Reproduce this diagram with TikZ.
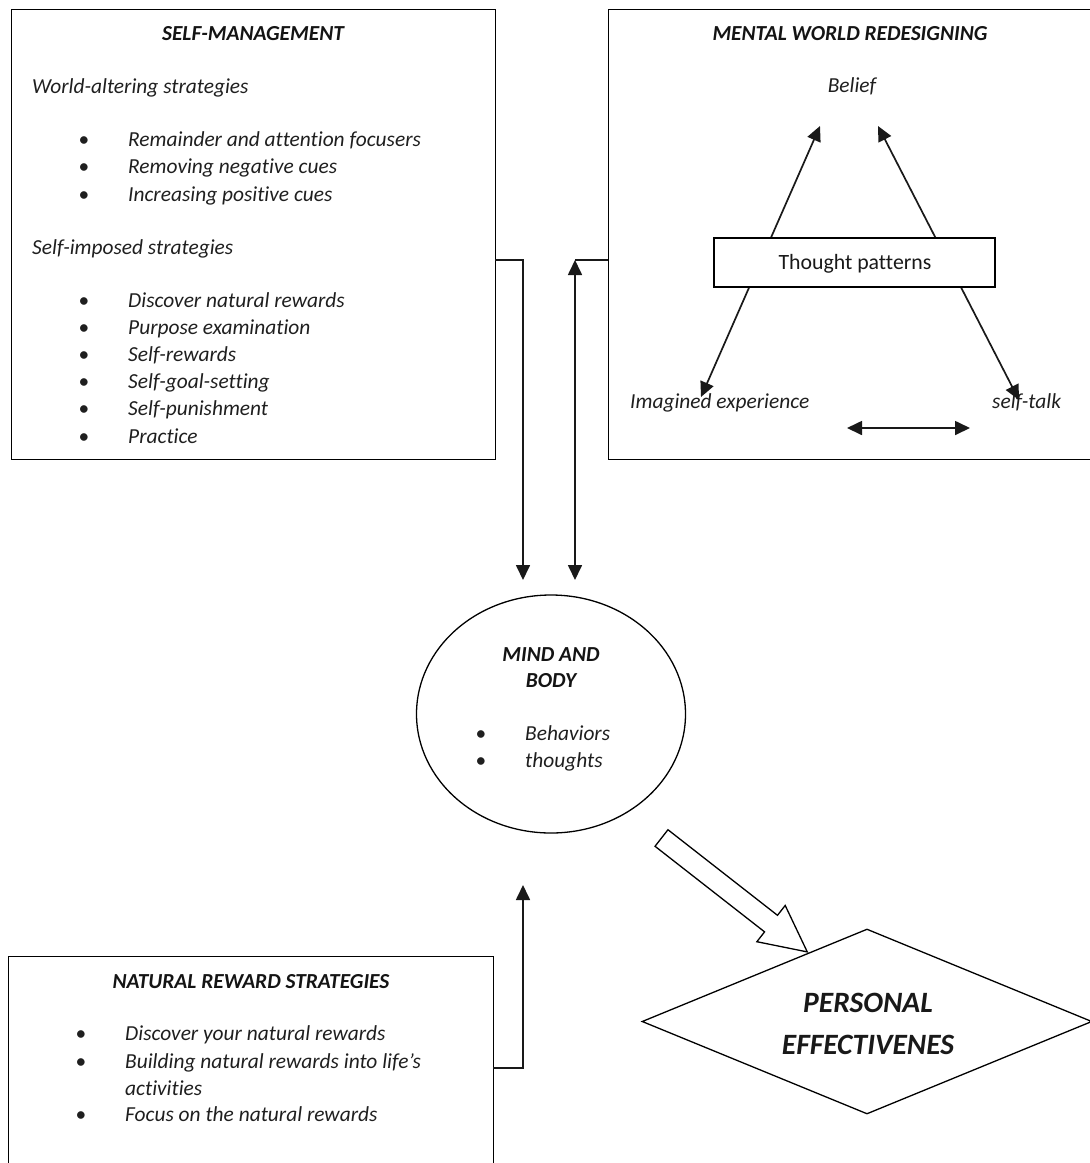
\documentclass[tikz,border=0pt]{standalone}
\usepackage{fontspec}
\setmainfont{Carlito}[Ligatures=NoCommon]
\usetikzlibrary{arrows.meta,shapes.geometric}
\begin{document}
\begin{tikzpicture}[x=1pt,y=-1pt,
  panel/.style={draw, line width=1.4pt, inner sep=0pt, anchor=north west},
  body/.style={font=\fontsize{21.4}{24}\selectfont\itshape, inner sep=0pt, text=black!88},
  head/.style={font=\fontsize{21.4}{24}\selectfont\bfseries\itshape, inner sep=0pt, text=black!92, anchor=base},
  item/.style={body, anchor=base west},
  dot/.style={body, anchor=base, font=\fontsize{21.4}{24}\selectfont},
  ln/.style={line width=1.7pt, black!90},
  arr/.style={ln, -{Triangle[length=15pt,width=14pt]}},
  darr/.style={ln, {Triangle[length=15pt,width=14pt]}-{Triangle[length=15pt,width=14pt]}}
]
\useasboundingbox (0,0) rectangle (1090,1163);

% ---------- panels ----------
\node[panel, minimum width=484, minimum height=450] (sm) at (11,9) {};
\node[panel, minimum width=500, minimum height=450] (mw) at (608,9) {};
\node[panel, minimum width=485, minimum height=260] (nr) at (8,956) {};

% ---------- self-management ----------
\node[head] (smt) at (253,40) {SELF-MANAGEMENT};
\node[item] (wa) at (32,93) {World-altering strategies};
\foreach \t [count=\i] in {Remainder and attention focusers,Removing negative cues,Increasing positive cues}{
  \node[dot] (wad\i) at (84,{146+(\i-1)*27.5}) {\textbullet};
  \node[item] (wat\i) at (128,{146+(\i-1)*27.5}) {\t};
}
\node[item] (si) at (32,254) {Self-imposed strategies};
\foreach \t [count=\i] in {Discover natural rewards,Purpose examination,Self-rewards,Self-goal-setting,Self-punishment,Practice}{
  \node[dot] (sid\i) at (84,{307+(\i-1)*27.2}) {\textbullet};
  \node[item] (sit\i) at (128,{307+(\i-1)*27.2}) {\t};
}

% ---------- mental world redesigning ----------
\node[head] (mwt) at (850,40) {MENTAL WORLD REDESIGNING};
\node[body, anchor=base] (belief) at (852,92) {Belief};
\node[item] (imag) at (630,408) {Imagined experience};
\node[item] (talk) at (992,408) {self-talk};
\coordinate (bl) at (820,126);
\coordinate (br) at (878,126);
\coordinate (ie) at (701,397);
\coordinate (st) at (1019,400);
\draw[darr] (ie) -- (bl);
\draw[darr] (st) -- (br);
\coordinate (h1) at (847,428);
\coordinate (h2) at (970,428);
\draw[darr] (h1) -- (h2);
\node[draw, line width=1.4pt, fill=white, minimum width=281, minimum height=49, inner sep=0pt] (tp) at (854.5,262.5) {};
\node[font=\fontsize{21.8}{24}\selectfont, inner sep=0pt, anchor=base, text=black!90] (tpt) at (855,269) {Thought patterns};

% ---------- mind and body ----------
\node[draw, ellipse, line width=1.3pt, minimum width=269, minimum height=238, inner sep=0pt] (mb) at (551,714) {};
\node[head] (mb1) at (551,661) {MIND AND};
\node[head] (mb2) at (551,687) {BODY};
\node[dot] (mbd1) at (481,740) {\textbullet};
\node[item] (mbt1) at (525,740) {Behaviors};
\node[dot] (mbd2) at (481,767) {\textbullet};
\node[item] (mbt2) at (525,767) {thoughts};

% ---------- connectors into mind and body ----------
\coordinate (smR) at (495,260);
\coordinate (mbL) at (523,580);
\draw[arr] (smR) -| (mbL);
\coordinate (mwL) at (608,260);
\coordinate (mbRt) at (575,260);
\coordinate (mbR) at (575,580);
\draw[ln] (mwL) -- (mbRt);
\draw[darr] (mbRt) -- (mbR);
\coordinate (nrR) at (493,1068);
\coordinate (mbB) at (523,885);
\draw[arr] (nrR) -| (mbB);

% ---------- natural reward strategies ----------
\node[head] (nrt) at (251,988) {NATURAL REWARD STRATEGIES};
\node[dot] (nrd1) at (81,1040.5) {\textbullet};
\node[item] (nrt1) at (125,1040.5) {Discover your natural rewards};
\node[dot] (nrd2) at (81,1068) {\textbullet};
\node[item] (nrt2) at (125,1068) {Building natural rewards into life’s};
\node[item] (nrt2b) at (125,1095) {activities};
\node[dot] (nrd3) at (81,1121.5) {\textbullet};
\node[item] (nrt3) at (125,1121.5) {Focus on the natural rewards};

% ---------- personal effectiveness ----------
\node[draw, diamond, line width=1.3pt, minimum width=450, minimum height=185, inner sep=0pt] (pe) at (867,1021.5) {};
\node[font=\fontsize{29.5}{32}\selectfont\bfseries\itshape, inner sep=0pt, anchor=base, text=black!90] (pe1) at (868,1012.5) {PERSONAL};
\node[font=\fontsize{29.5}{32}\selectfont\bfseries\itshape, inner sep=0pt, anchor=base, text=black!90] (pe2) at (868,1054) {EFFECTIVENES};

% hollow block arrow from mind and body to personal effectiveness
\coordinate (bt) at (661.5,838);
\begin{scope}[shift={(bt)}, rotate=-38]
  \draw[line width=1.3pt, fill=white, line join=miter]
    (0,-10.5) -- (139,-10.5) -- (139,-23) -- (185,0) -- (139,23) -- (139,10.5) -- (0,10.5) -- cycle;
\end{scope}
\end{tikzpicture}
\end{document}
